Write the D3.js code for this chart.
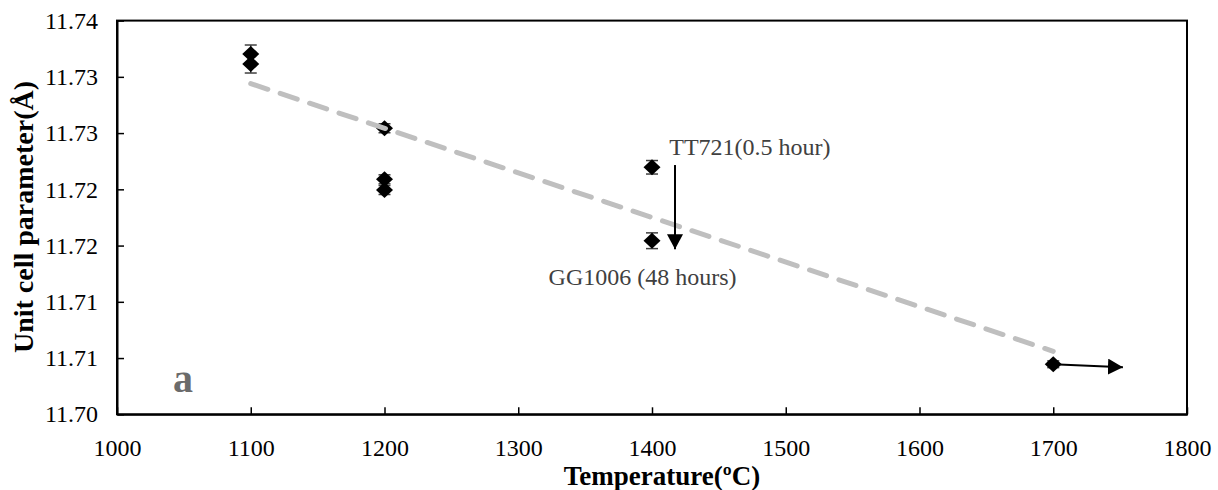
<!DOCTYPE html>
<html>
<head>
<meta charset="utf-8">
<script src="https://cdn.jsdelivr.net/npm/d3@7"></script>
<style>
  html, body { margin: 0; padding: 0; background: #fff; }
  svg { display: block; }
  text { font-family: "Liberation Serif", "Times New Roman", serif; }
</style>
</head>
<body>
<svg id="chart" width="1218" height="490"></svg>
<script>
// ---- data ----
const temps = [1100, 1100, 1200, 1200, 1200, 1400, 1400, 1700];
const cellParam = [11.73203, 11.73114, 11.72543, 11.72089, 11.71994, 11.72196, 11.71543, 11.70445];
const errors = [0.0008, 0.0008, 0.0004, 0.0004, 0.0004, 0.0006, 0.0007, 0.0003];
const trendX = [1100, 1700];
const trendY = [11.7294, 11.7056];
const xTicks = [1000, 1100, 1200, 1300, 1400, 1500, 1600, 1700, 1800];
const yTicks = [11.700, 11.705, 11.710, 11.715, 11.720, 11.725, 11.730, 11.735];
const yTickLabels = ["11.70", "11.71", "11.71", "11.72", "11.72", "11.73", "11.73", "11.74"];
const annotations = [
  { text: "TT721(0.5 hour)", x: 1412.9, y: 11.72305 },
  { text: "GG1006 (48 hours)", x: 1322.7, y: 11.71150 }
];
const arrows = [
  { x1: 1417.2, y1: 11.72216, x2: 1417.2, y2: 11.71467 },
  { x1: 1700, y1: 11.70445, x2: 1752.1, y2: 11.70418 }
];
const panelLabel = { text: "a", x: 1041.9, y: 11.70198 };

// ---- layout ----
const svg = d3.select("#chart");
const pLeft = 117, pRight = 1187, pTop = 20.6, pBottom = 414.3;
const x = d3.scaleLinear().domain([1000, 1800]).range([pLeft, pRight]);
const y = d3.scaleLinear().domain([11.700, 11.735]).range([pBottom, pTop]);

// frame
svg.append("rect")
  .attr("x", pLeft).attr("y", pTop)
  .attr("width", pRight - pLeft).attr("height", pBottom - pTop)
  .attr("fill", "none").attr("stroke", "#000").attr("stroke-width", 2);

// x axis
const xAxis = svg.append("g")
  .attr("transform", `translate(0,${pBottom})`)
  .call(d3.axisBottom(x).tickValues(xTicks).tickFormat(d3.format("d"))
    .tickSizeInner(-7).tickSizeOuter(0).tickPadding(25));
xAxis.select(".domain").attr("stroke", "#000").attr("stroke-width", 2);
xAxis.selectAll(".tick line").attr("stroke", "#000").attr("stroke-width", 1.5);
xAxis.selectAll(".tick text").attr("font-size", 24).attr("fill", "#000")
  .attr("font-family", "Liberation Serif");

// y axis
const yAxis = svg.append("g")
  .attr("transform", `translate(${pLeft},0)`)
  .call(d3.axisLeft(y).tickValues(yTicks).tickFormat((d, i) => yTickLabels[i])
    .tickSizeInner(-7).tickSizeOuter(0).tickPadding(19));
yAxis.select(".domain").attr("stroke", "#000").attr("stroke-width", 2);
yAxis.selectAll(".tick line").attr("stroke", "#000").attr("stroke-width", 1.5);
yAxis.selectAll(".tick text").attr("font-size", 24).attr("fill", "#000")
  .attr("font-family", "Liberation Serif");

// axis titles
svg.append("text")
  .attr("x", 662).attr("y", 485)
  .attr("text-anchor", "middle")
  .attr("font-size", 27).attr("font-weight", "bold").attr("fill", "#000")
  .text("Temperature(ºC)");
svg.append("text")
  .attr("transform", `translate(33,${217}) rotate(-90)`)
  .attr("text-anchor", "middle")
  .attr("font-size", 28).attr("font-weight", "bold").attr("fill", "#000")
  .text("Unit cell parameter(Å)");

const pts = temps.map((t, i) => ({ t, v: cellParam[i], e: errors[i] }));

// error bars
const eb = svg.append("g").attr("stroke", "#404040").attr("stroke-width", 1.5);
pts.forEach(d => {
  const cx = x(d.t), y0 = y(d.v - d.e), y1 = y(d.v + d.e);
  eb.append("line").attr("x1", cx).attr("x2", cx).attr("y1", y0).attr("y2", y1);
  eb.append("line").attr("x1", cx - 6).attr("x2", cx + 6).attr("y1", y0).attr("y2", y0);
  eb.append("line").attr("x1", cx - 6).attr("x2", cx + 6).attr("y1", y1).attr("y2", y1);
});

// diamonds
svg.append("g").selectAll("path").data(pts).join("path")
  .attr("d", "M0,-8L8.5,0L0,8L-8.5,0Z")
  .attr("transform", d => `translate(${x(d.t)},${y(d.v)})`)
  .attr("fill", "#000");

// trend line
svg.append("path")
  .datum(trendX.map((t, i) => [t, trendY[i]]))
  .attr("d", d3.line().x(d => x(d[0])).y(d => y(d[1])))
  .attr("fill", "none").attr("stroke", "#bfbfbf").attr("stroke-width", 5)
  .attr("stroke-linecap", "round").attr("stroke-dasharray", "18 13");

// arrows
svg.append("defs").append("marker")
  .attr("id", "arrowhead").attr("viewBox", "0 0 15 16")
  .attr("refX", 15).attr("refY", 8)
  .attr("markerWidth", 15).attr("markerHeight", 16)
  .attr("markerUnits", "userSpaceOnUse").attr("orient", "auto")
  .append("path").attr("d", "M0,0L15,8L0,16Z").attr("fill", "#000");
arrows.forEach(a => {
  svg.append("line")
    .attr("x1", x(a.x1)).attr("y1", y(a.y1))
    .attr("x2", x(a.x2)).attr("y2", y(a.y2))
    .attr("stroke", "#000").attr("stroke-width", 2)
    .attr("marker-end", "url(#arrowhead)");
});

// annotations
annotations.forEach(a => {
  svg.append("text").attr("x", x(a.x)).attr("y", y(a.y))
    .attr("font-size", 24).attr("fill", "#404040").text(a.text);
});
svg.append("text").attr("x", x(panelLabel.x)).attr("y", y(panelLabel.y))
  .attr("font-size", 40).attr("font-weight", "bold").attr("fill", "#6b6b6b")
  .text(panelLabel.text);
</script>
</body>
</html>
